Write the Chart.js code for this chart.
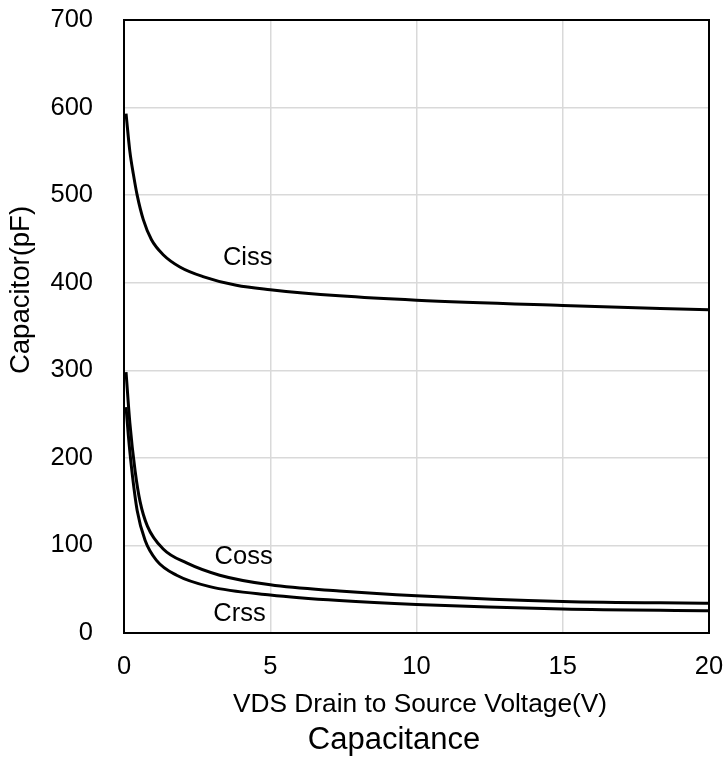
<!DOCTYPE html>
<html>
<head>
<meta charset="utf-8">
<script src="https://cdn.jsdelivr.net/npm/chart.js@4/dist/chart.umd.min.js"></script>
<style>
  html, body { margin: 0; padding: 0; background: #fff; }
  #wrap { width: 724px; height: 762px; }
</style>
</head>
<body>
<div id="wrap"><canvas id="capChart" width="724" height="762"></canvas></div>
<script>
'use strict';

// ── Data ──────────────────────────────────────────────────
const cissVds = [0.07, 0.2, 0.32, 0.45, 0.66, 0.94, 1.34, 1.91, 2.7, 3.84, 5, 7.36, 10, 15, 20];
const cissPf  = [593, 550, 524, 500, 472, 449, 432, 418, 407, 397, 392, 385, 380, 374, 369];

const cossVds = [0.07, 0.2, 0.38, 0.55, 0.8, 1.34, 2.14, 3.27, 5, 7.36, 10, 15, 20];
const cossPf  = [298, 240, 185, 150, 122, 96, 80, 66, 55, 48, 42.5, 36, 34];

const crssVds = [0.07, 0.15, 0.26, 0.45, 0.72, 1.11, 1.8, 2.93, 5, 7.36, 10, 15, 20];
const crssPf  = [258, 225, 188, 140, 106, 83, 66, 53, 43.4, 37, 32.5, 27.4, 25.5];

const curveNames = ['Ciss', 'Coss', 'Crss'];
const labelVds   = [4.23, 4.09, 3.95];
const labelPf    = [428, 87, 22];

const xTicks = [0, 5, 10, 15, 20];
const yTicks = [0, 100, 200, 300, 400, 500, 600, 700];

const xTitle     = 'VDS Drain to Source Voltage(V)';
const yTitle     = 'Capacitor(pF)';
const chartTitle = 'Capacitance';

const FONT = "'Liberation Sans', Arial, sans-serif";

function toPoints(xs, ys) {
  return xs.map((x, i) => ({ x, y: ys[i] }));
}

function curve(label, xs, ys) {
  return {
    label,
    data: toPoints(xs, ys),
    borderColor: '#000',
    borderWidth: 3,
    pointRadius: 0,
    fill: false,
    cubicInterpolationMode: 'monotone'
  };
}

// ── Plugins: curve names, titles, frame ───────────────────
const curveLabels = {
  id: 'curveLabels',
  afterDatasetsDraw(chart) {
    const { ctx, scales: { x, y } } = chart;
    ctx.save();
    ctx.fillStyle = '#000';
    ctx.font = `25.5px ${FONT}`;
    ctx.textAlign = 'center';
    ctx.textBaseline = 'middle';
    curveNames.forEach((name, i) => {
      ctx.fillText(name, x.getPixelForValue(labelVds[i]), y.getPixelForValue(labelPf[i]));
    });
    ctx.restore();
  }
};

const titles = {
  id: 'titles',
  afterDraw(chart) {
    const { ctx } = chart;
    ctx.save();
    ctx.fillStyle = '#000';
    ctx.textAlign = 'center';
    ctx.textBaseline = 'middle';

    ctx.font = `26.3px ${FONT}`;
    ctx.fillText(xTitle, 420, 705);

    ctx.font = `31px ${FONT}`;
    ctx.fillText(chartTitle, 394, 740);

    ctx.translate(21, 290);
    ctx.rotate(-Math.PI / 2);
    ctx.font = `27.5px ${FONT}`;
    ctx.fillText(yTitle, 0, 0);
    ctx.restore();
  }
};

const frame = {
  id: 'frame',
  afterDraw(chart) {
    const { ctx, chartArea: a } = chart;
    ctx.save();
    ctx.strokeStyle = '#000';
    ctx.lineWidth = 2;
    ctx.strokeRect(a.left, a.top, a.right - a.left, a.bottom - a.top);
    ctx.restore();
  }
};

new Chart(document.getElementById('capChart'), {
  type: 'line',
  data: {
    datasets: [
      curve('Ciss', cissVds, cissPf),
      curve('Coss', cossVds, cossPf),
      curve('Crss', crssVds, crssPf)
    ]
  },
  options: {
    responsive: false,
    animation: false,
    layout: { padding: { top: 20, right: 15, left: 0, bottom: 0 } },
    plugins: {
      legend: { display: false },
      tooltip: { enabled: false },
      title: { display: false }
    },
    scales: {
      x: {
        type: 'linear',
        min: 0,
        max: 20,
        afterFit: s => {
          s.height = 129;
          s.paddingLeft = 0; s.paddingRight = 0;
        },
        afterBuildTicks: s => { s.ticks = xTicks.map(v => ({ value: v })); },
        grid: { color: '#d9d9d9', lineWidth: 1.5, drawTicks: false },
        border: { display: false },
        ticks: { color: '#000', padding: 18.5, maxRotation: 0, font: { family: FONT, size: 25.5 } }
      },
      y: {
        min: 0,
        max: 700,
        afterFit: s => {
          s.width = 124;
          s.paddingTop = 0; s.paddingBottom = 0;
        },
        afterBuildTicks: s => { s.ticks = yTicks.map(v => ({ value: v })); },
        grid: { color: '#d9d9d9', lineWidth: 1.5, drawTicks: false },
        border: { display: false },
        ticks: { color: '#000', padding: 31, font: { family: FONT, size: 25.5 } }
      }
    }
  },
  plugins: [curveLabels, titles, frame]
});
</script>
</body>
</html>
